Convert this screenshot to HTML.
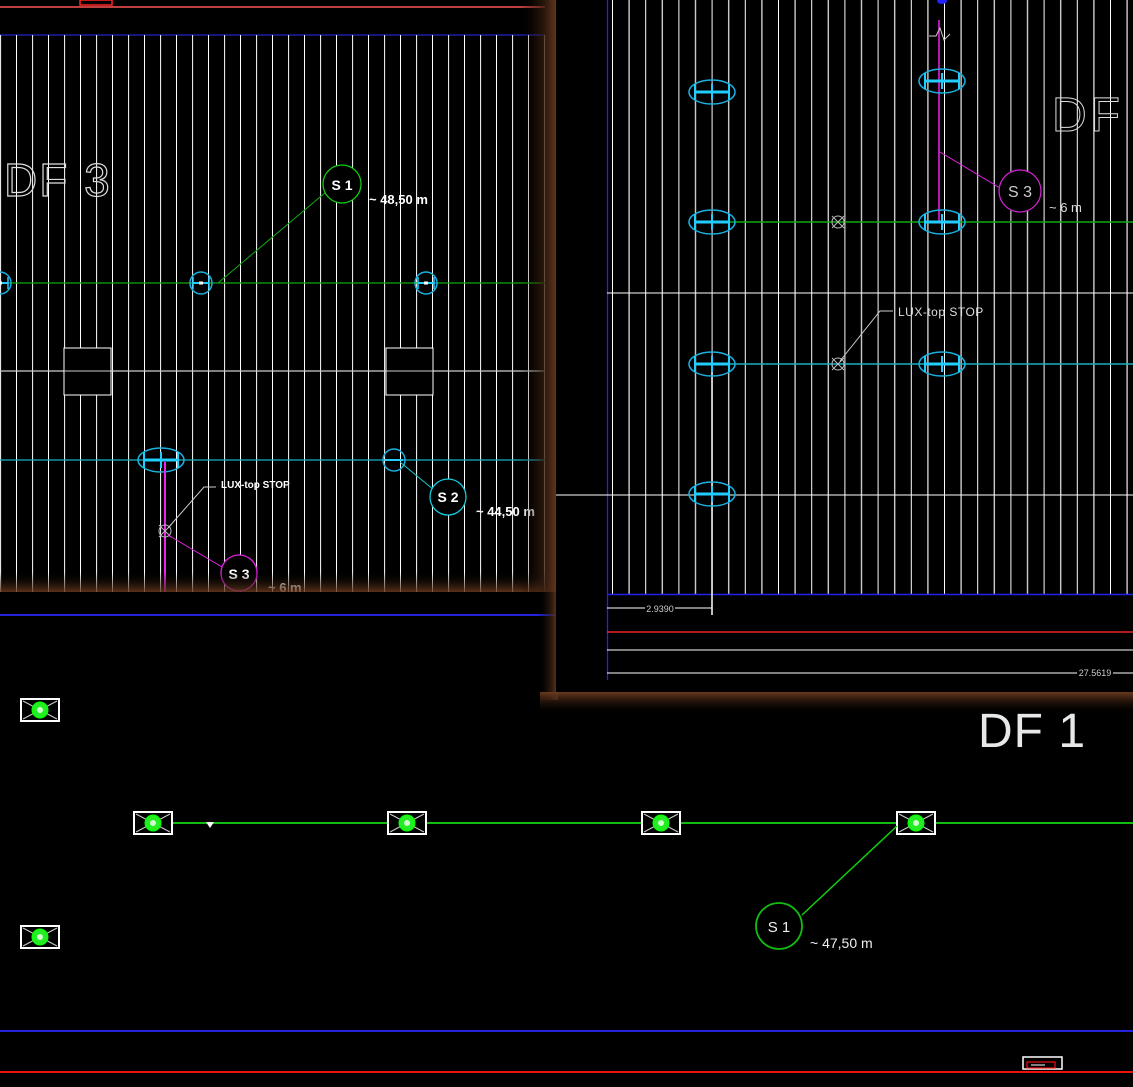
<!DOCTYPE html>
<html><head><meta charset="utf-8"><style>
html,body{margin:0;padding:0;background:#000;}
svg{display:block;}
text{font-family:"Liberation Sans",sans-serif;}
</style></head><body>
<svg width="1133" height="1087" viewBox="0 0 1133 1087" xmlns="http://www.w3.org/2000/svg">
<defs>
<pattern id="pl" x="0" y="0" width="32" height="10" patternUnits="userSpaceOnUse">
<line x1="0.5" y1="0" x2="0.5" y2="10" stroke="#e8e8e8" stroke-width="1.2"/>
<line x1="16.5" y1="0" x2="16.5" y2="10" stroke="#fff" stroke-width="1"/>
</pattern>
<pattern id="pr" x="612" y="0" width="33.2" height="10" patternUnits="userSpaceOnUse">
<line x1="0.5" y1="0" x2="0.5" y2="10" stroke="#fff" stroke-width="1"/>
<line x1="17.1" y1="0" x2="17.1" y2="10" stroke="#ddd" stroke-width="1.3"/>
</pattern>
<linearGradient id="gl" x1="0" x2="1" y1="0" y2="0">
<stop offset="0" stop-color="#000" stop-opacity="0"/><stop offset="1" stop-color="#6a3a1e"/>
</linearGradient>
<linearGradient id="gb" x1="0" x2="0" y1="0" y2="1">
<stop offset="0" stop-color="#000" stop-opacity="0"/><stop offset="1" stop-color="#6a3a1e"/>
</linearGradient>
<linearGradient id="gb2" x1="0" x2="0" y1="0" y2="1">
<stop offset="0" stop-color="#6a3a1e"/><stop offset="1" stop-color="#000" stop-opacity="0"/>
</linearGradient>
<g id="fx">
<rect x="-19" y="-11" width="38" height="22" fill="#000" stroke="#fff" stroke-width="2"/>
<line x1="-17" y1="-9" x2="17" y2="9" stroke="#ccc"/><line x1="-17" y1="9" x2="17" y2="-9" stroke="#ccc"/>
<circle r="8" fill="#2e2" stroke="#0f0"/><circle r="3" fill="#cfc"/>
</g>
<g id="el">
<ellipse rx="23" ry="12" fill="none" stroke="#1ab0e0" stroke-width="1.5"/>
<line x1="-18" y1="0" x2="18" y2="0" stroke="#2cf" stroke-width="3"/>
<line x1="-17" y1="-8" x2="-17" y2="8" stroke="#2cf" stroke-width="2"/>
<line x1="17" y1="-8" x2="17" y2="8" stroke="#2cf" stroke-width="2"/>
<line x1="0" y1="-8" x2="0" y2="8" stroke="#2cf" stroke-width="2"/>
</g>
<g id="es">
<ellipse rx="11" ry="11" fill="none" stroke="#1ab0e0" stroke-width="1.5"/>
<line x1="-8" y1="0" x2="8" y2="0" stroke="#2cf" stroke-width="2"/>
<line x1="-8" y1="-6" x2="-8" y2="6" stroke="#2cf" stroke-width="1.5"/>
<line x1="8" y1="-6" x2="8" y2="6" stroke="#2cf" stroke-width="1.5"/>
<rect x="-2" y="-1.5" width="4" height="3" fill="#fff"/>
</g>
<g id="lx">
<circle r="6" fill="none" stroke="#bbb"/>
<line x1="-6" y1="-6" x2="6" y2="6" stroke="#bbb"/><line x1="-6" y1="6" x2="6" y2="-6" stroke="#bbb"/>
</g>
</defs>
<rect width="1133" height="1087" fill="#000"/>

<!-- LEFT PANEL -->
<line x1="0" y1="7" x2="545" y2="7" stroke="#f55" stroke-width="1.5"/>
<rect x="80" y="0" width="32" height="5" fill="none" stroke="#f22" stroke-width="1.5"/>
<line x1="0" y1="35" x2="545" y2="35" stroke="#22c" stroke-width="1.2"/>
<rect x="0" y="35" width="546" height="557" fill="url(#pl)"/>
<line x1="0" y1="371" x2="545" y2="371" stroke="#ccc" stroke-width="1.2"/>
<rect x="64" y="348" width="47" height="47" fill="#000" stroke="#fff"/>
<rect x="386" y="348" width="47" height="47" fill="#000" stroke="#fff"/>
<line x1="64" y1="371" x2="111" y2="371" stroke="#ccc"/>
<line x1="386" y1="371" x2="433" y2="371" stroke="#ccc"/>
<line x1="0" y1="283" x2="545" y2="283" stroke="#1a1" stroke-width="1.3"/>
<line x1="0" y1="460" x2="545" y2="460" stroke="#1ab0c0" stroke-width="1.3"/>
<text x="4" y="196" font-size="46" fill="none" stroke="#ddd" stroke-width="1.2" letter-spacing="2">DF 3</text>
<use href="#es" x="201" y="283"/><use href="#es" x="426" y="283"/><use href="#es" x="0" y="283"/>
<line x1="218" y1="283" x2="326" y2="192" stroke="#1a1"/>
<circle cx="342" cy="184" r="19" fill="#000" stroke="#1c1" stroke-width="1.3"/>
<text x="342" y="190" font-size="14" fill="#fff" text-anchor="middle" font-weight="bold">S 1</text>
<text x="369" y="204" font-size="13" fill="#fff" font-weight="bold">~ 48,50 m</text>
<use href="#el" x="161" y="460"/>
<ellipse cx="394" cy="460" rx="11" ry="11" fill="none" stroke="#1ab0e0" stroke-width="1.5"/>
<line x1="385" y1="460" x2="403" y2="460" stroke="#2cf" stroke-width="2"/>
<line x1="400" y1="462" x2="434" y2="490" stroke="#1cc"/>
<circle cx="448" cy="497" r="18" fill="#000" stroke="#1cd" stroke-width="1.3"/>
<text x="448" y="502" font-size="14" fill="#fff" text-anchor="middle" font-weight="bold">S 2</text>
<text x="476" y="516" font-size="13" fill="#fff" font-weight="bold">~ 44,50 m</text>
<line x1="165" y1="462" x2="165" y2="592" stroke="#e2e" stroke-width="2"/>
<use href="#lx" x="165" y="531"/>
<polyline points="168,528 204,487 216,487" fill="none" stroke="#ccc"/>
<text x="221" y="488" font-size="10" fill="#fff" font-weight="bold">LUX-top STOP</text>
<line x1="168" y1="535" x2="222" y2="567" stroke="#e2e"/>
<circle cx="239" cy="573" r="18" fill="#000" stroke="#d2d" stroke-width="1.3"/>
<text x="239" y="579" font-size="14" fill="#fff" text-anchor="middle" font-weight="bold">S 3</text>
<text x="268" y="592" font-size="13" fill="#fff" font-weight="bold">~ 6 m</text>
<rect x="0" y="572" width="556" height="20" fill="url(#gb)" opacity="0.85"/>
<rect x="520" y="0" width="36" height="592" fill="url(#gl)"/>
<line x1="0" y1="615" x2="556" y2="615" stroke="#22d" stroke-width="2"/>

<!-- RIGHT PANEL -->
<rect x="538" y="0" width="20" height="700" fill="url(#gl)"/>
<rect x="540" y="692" width="595" height="22" fill="url(#gb2)"/>
<rect x="556" y="0" width="577" height="692" fill="#000"/>
<rect x="607" y="0" width="526" height="594" fill="url(#pr)"/>
<line x1="607.5" y1="0" x2="607.5" y2="680" stroke="#22e" stroke-width="1.3"/>
<line x1="607" y1="594.5" x2="1133" y2="594.5" stroke="#22e" stroke-width="1.5"/>
<line x1="607" y1="293" x2="1133" y2="293" stroke="#fff"/>
<line x1="556" y1="495" x2="1133" y2="495" stroke="#fff"/>
<line x1="712" y1="222" x2="1133" y2="222" stroke="#1a1" stroke-width="1.5"/>
<line x1="712" y1="364" x2="1133" y2="364" stroke="#1ab0c0" stroke-width="1.5"/>
<line x1="712" y1="364" x2="712" y2="615" stroke="#fff" stroke-width="1.5"/>
<line x1="939" y1="20" x2="939" y2="222" stroke="#e2e" stroke-width="1.5"/>
<polyline points="929,36 936,36 940,28 944,40 950,34" fill="none" stroke="#ccc"/>
<ellipse cx="942" cy="1" rx="5" ry="3" fill="#22f"/>
<use href="#el" x="712" y="92"/><use href="#el" x="712" y="222"/><use href="#el" x="712" y="364"/><use href="#el" x="712" y="494"/>
<use href="#el" x="942" y="81"/><use href="#el" x="942" y="222"/><use href="#el" x="942" y="364"/>
<use href="#lx" x="838" y="222"/><use href="#lx" x="838" y="364"/>
<polyline points="840,361 880,311 893,311" fill="none" stroke="#ccc"/>
<text x="898" y="316" font-size="12" fill="#ddd" letter-spacing="0.5">LUX-top STOP</text>
<line x1="940" y1="152" x2="1000" y2="188" stroke="#e2e"/>
<circle cx="1020" cy="191" r="21" fill="#000" stroke="#c2c" stroke-width="1.3"/>
<text x="1020" y="197" font-size="16" fill="#ccc" text-anchor="middle">S 3</text>
<text x="1049" y="212" font-size="13" fill="#ddd">~ 6 m</text>
<text x="1052" y="131" font-size="48" fill="none" stroke="#ddd" stroke-width="1" letter-spacing="4">DF</text>
<line x1="607" y1="608" x2="712" y2="608" stroke="#fff"/>
<rect x="645" y="602" width="30" height="12" fill="#000"/>
<text x="660" y="612" font-size="9" fill="#ccc" text-anchor="middle">2.9390</text>
<line x1="607" y1="632" x2="1133" y2="632" stroke="#e22" stroke-width="1.5"/>
<line x1="607" y1="650" x2="1133" y2="650" stroke="#fff"/>
<line x1="607" y1="673" x2="1133" y2="673" stroke="#fff"/>
<rect x="1077" y="667" width="36" height="12" fill="#000"/>
<text x="1095" y="676" font-size="9" fill="#ccc" text-anchor="middle">27.5619</text>

<!-- BOTTOM -->
<text x="978" y="747" font-size="48" fill="#e8e8e8" letter-spacing="1">DF 1</text>
<line x1="155" y1="823" x2="1133" y2="823" stroke="#1b1" stroke-width="2"/>
<use href="#fx" x="40" y="710"/><use href="#fx" x="153" y="823"/><use href="#fx" x="407" y="823"/>
<use href="#fx" x="661" y="823"/><use href="#fx" x="916" y="823"/><use href="#fx" x="40" y="937"/>
<polygon points="206,822 214,822 210,828" fill="#fff"/>
<line x1="802" y1="915" x2="897" y2="826" stroke="#1c1" stroke-width="1.5"/>
<circle cx="779" cy="926" r="23" fill="#000" stroke="#1b1" stroke-width="1.8"/>
<text x="779" y="932" font-size="15" fill="#eee" text-anchor="middle">S 1</text>
<text x="810" y="948" font-size="14" fill="#eee">~ 47,50 m</text>
<line x1="0" y1="1031" x2="1133" y2="1031" stroke="#22d" stroke-width="2"/>
<line x1="0" y1="1072" x2="1133" y2="1072" stroke="#e11" stroke-width="2"/>
<rect x="1023" y="1057" width="39" height="12" fill="#000" stroke="#fff" stroke-width="1.5"/>
<rect x="1027" y="1062" width="28" height="6" fill="none" stroke="#e11" stroke-width="1.2"/>
<line x1="1031" y1="1065" x2="1045" y2="1065" stroke="#fff"/>
</svg>
</body></html>
